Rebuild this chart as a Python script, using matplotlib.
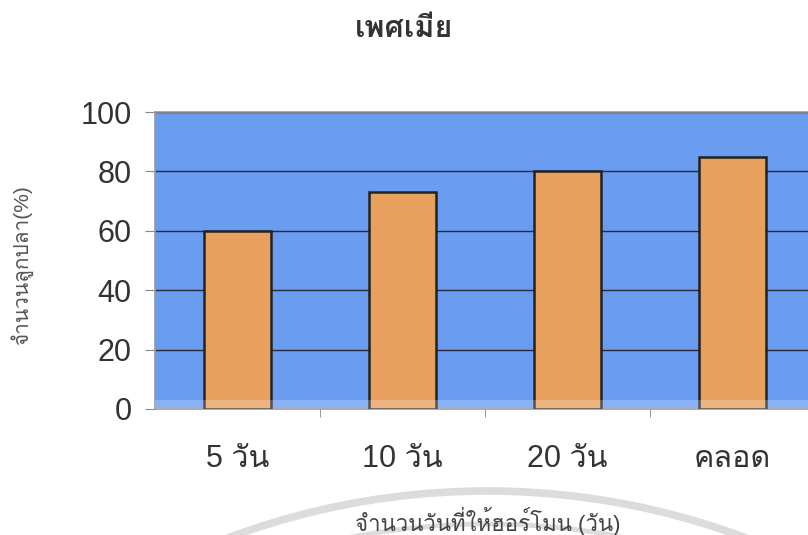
import matplotlib
matplotlib.use("Agg")
import matplotlib.pyplot as plt
from matplotlib import font_manager
from matplotlib.ft2font import FT2Font
from matplotlib.patches import Arc
import numpy as np

# data
categories = ["5 วัน", "10 วัน", "20 วัน", "คลอด"]
values = [60, 73, 80, 85]
yticks = [0, 20, 40, 60, 80, 100]

title = "เพศเมีย"
xlabel = "จำนวนวันที่ให้ฮอร์โมน (วัน)"
ylabel = "จำนวนลูกปลา(%)"


# find an installed font that has Thai glyphs
def thai_fonts():
    found = []
    for f in font_manager.fontManager.ttflist:
        try:
            cmap = FT2Font(f.fname).get_charmap()
        except Exception:
            continue
        if 0x0E01 in cmap and f.name not in found:
            found.append(f.name)
    return found


thai = thai_fonts()
plt.rcParams["font.family"] = ["Liberation Sans"] + thai + ["DejaVu Sans"]

fig = plt.figure(figsize=(8.08, 5.35), dpi=100)

# faint watermark arcs behind the x label (scanned page)
for d, lw in [(14.78, 5.5), (14.12, 3.5)]:
    fig.patches.append(Arc((4.87, -6.95), d, d, theta1=60, theta2=120, color="#dcdcdc",
                           linewidth=lw, transform=fig.dpi_scale_trans, zorder=0))

ax = fig.add_axes([155 / 808, 1 - 409 / 535, 660 / 808, (409 - 112) / 535])

ax.set_facecolor("#6a9cf0")
x = np.arange(len(categories))
ax.bar(x, values, width=0.41, color="#e8a05e", edgecolor="#222222", linewidth=1.8, zorder=3)
ax.axhspan(0, 3, color="white", alpha=0.22, linewidth=0, zorder=4)

ax.set_xlim(-0.5, len(categories) - 0.5)
ax.set_ylim(0, 100)
ax.set_yticks(yticks)
ax.yaxis.grid(True, color="#2a2a3a", linewidth=1.0, zorder=1)
ax.set_axisbelow(True)

ax.set_xticks(x)
ax.set_xticklabels(categories, fontsize=22, color="#333333")
ax.set_xticks(np.arange(len(categories) - 1) + 0.5, minor=True)
ax.tick_params(axis="x", which="major", length=0, pad=25)
ax.tick_params(axis="x", which="minor", length=6, color="#888888", direction="out")
ax.tick_params(axis="y", labelsize=22, labelcolor="#333333", length=7, color="#888888", pad=10)

ax.spines["right"].set_visible(False)
for s in ["left", "top", "bottom"]:
    ax.spines[s].set_color("#999999")
    ax.spines[s].set_linewidth(1.2)

fig.text(0.5, 1 - 29 / 535, title, ha="center", va="center", fontsize=22, fontweight="bold", color="#333333")
fig.text(488 / 808, 1 - 522 / 535, xlabel, ha="center", va="center", fontsize=16, color="#444444")
fig.text(22 / 808, 1 - 265 / 535, ylabel, ha="center", va="center", rotation=90, fontsize=15, color="#555555")

fig.savefig("out.png", dpi=100)
